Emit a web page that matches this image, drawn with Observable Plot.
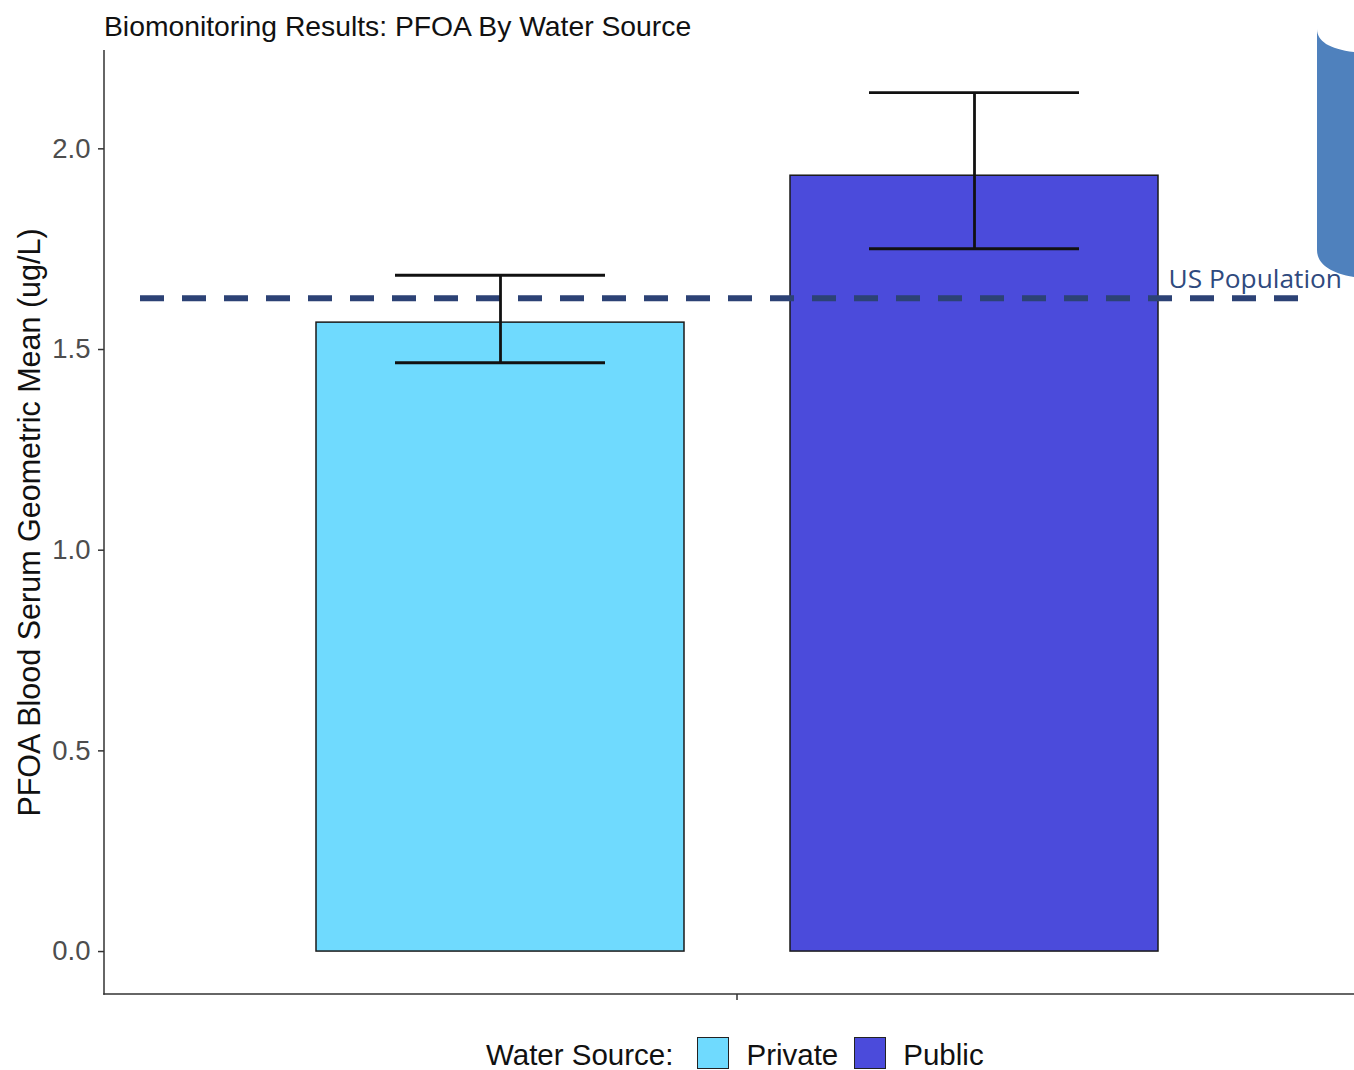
<!DOCTYPE html>
<html>
<head>
<meta charset="utf-8">
<script src="https://cdn.jsdelivr.net/npm/d3@7"></script>
<script src="https://cdn.jsdelivr.net/npm/@observablehq/plot@0.6"></script>
<style>
  html, body { margin: 0; padding: 0; background: #fff; }
  body { width: 1354px; height: 1070px; overflow: hidden; position: relative; font-family: "Liberation Sans", Arial, sans-serif; }
  #title { height: 48px; box-sizing: border-box; padding: 12px 0 0 104px; font-size: 28.3px; line-height: 28px; color: #111; white-space: nowrap; }
  #chart { width: 1354px; height: 960px; overflow: hidden; }
  #chart svg { max-width: none !important; display: block; }
  #legend { height: 62px; box-sizing: border-box; padding: 29px 0 0 486px; display: flex; align-items: flex-start; font-size: 29.5px; line-height: 29px; color: #111; white-space: nowrap; }
  #legend span { margin-top: 3px; }
  #legend .sw { width: 32px; height: 32px; border: 1.5px solid #222; box-sizing: border-box; flex: none; }
  #shape { position: absolute; left: 0; top: 0; pointer-events: none; }
</style>
</head>
<body>
<div id="title"></div>
<div id="chart"></div>
<div id="legend"></div>
<svg id="shape" width="1354" height="1070">
  <path d="M1317,29 C1317,41 1329,49 1354,52 L1354,277 C1329,273 1317,263 1317,250 Z" fill="#4f81bd"></path>
</svg>
<script>
// PFOA serum geometric means by drinking-water source, with 95% CI
const sources = ["Private", "Public"];
const geoMeans = [1.567, 1.933];
const ciLower = [1.467, 1.751];
const ciUpper = [1.685, 2.140];
const fillColors = ["#6fdafe", "#4b4bdb"];
const usPopulation = 1.628;
const usPopulationLabel = "US Population";
const yTicks = [0, 0.5, 1.0, 1.5, 2.0];
const titleText = "Biomonitoring Results: PFOA By Water Source";
const yLabel = "PFOA Blood Serum Geometric Mean (ug/L)";
const legendTitle = "Water Source:";

const rows = sources.map((s, i) => ({source: s, mean: geoMeans[i], lo: ciLower[i], hi: ciUpper[i]}));

document.getElementById("title").textContent = titleText;

// Axis lines along the left and bottom of the panel, plus the single group tick
function panelAxes(index, scales, values, dims) {
  const g = d3.create("svg:g").attr("stroke", "#333").attr("stroke-width", 1.5).attr("fill", "none");
  const x0 = dims.marginLeft, x1 = dims.width - dims.marginRight;
  const y0 = dims.marginTop, y1 = dims.height - dims.marginBottom;
  g.append("line").attr("x1", x0).attr("x2", x0).attr("y1", y0).attr("y2", y1 + 0.75);
  g.append("line").attr("x1", x0 - 0.75).attr("x2", x1).attr("y1", y1).attr("y2", y1);
  const xm = (x0 + x1) / 2;
  g.append("line").attr("x1", xm).attr("x2", xm).attr("y1", y1).attr("y2", y1 + 6);
  return g.node();
}

const chart = Plot.plot({
  width: 1370,
  height: 960,
  marginTop: 2,
  marginBottom: 14,
  marginLeft: 104,
  marginRight: 0,
  style: {fontFamily: "'Liberation Sans', Arial, sans-serif", background: "transparent", maxWidth: "none"},
  x: {type: "band", domain: sources, paddingInner: 0.2236, paddingOuter: 0.447, axis: null},
  y: {domain: [-0.107, 2.245], axis: null},
  color: {domain: sources, range: fillColors},
  marks: [
    Plot.barY(rows, {x: "source", y1: 0, y2: "mean", fill: "source", stroke: "#1a1a1a", strokeWidth: 1.5}),
    Plot.ruleY([usPopulation], {stroke: "#2c4275", strokeWidth: 6, strokeDasharray: "24,18", insetLeft: 36, insetRight: 72}),
    Plot.ruleX(rows, {x: "source", y1: "lo", y2: "hi", stroke: "#111", strokeWidth: 2.8}),
    Plot.tickY(rows, {x: "source", y: "lo", stroke: "#111", strokeWidth: 2.8, insetLeft: 79, insetRight: 79}),
    Plot.tickY(rows, {x: "source", y: "hi", stroke: "#111", strokeWidth: 2.8, insetLeft: 79, insetRight: 79}),
    Plot.text([usPopulationLabel], {
      y: () => usPopulation, frameAnchor: "right", textAnchor: "start", lineAnchor: "middle",
      dx: -202, dy: -19, fontFamily: "'Open Sans', sans-serif", fontSize: 26.3, fill: "#2f4a7e"
    }),
    Plot.axisY({ticks: yTicks, tickFormat: d3.format(".1f"), tickSize: 6, tickPadding: 8, stroke: "#333", strokeWidth: 1.5, fill: "#4d4d4d", fontSize: 27.5, label: null}),
    Plot.text([yLabel], {frameAnchor: "left", rotate: -90, textAnchor: "middle", lineAnchor: "top", dx: -86, fontSize: 30.5, fill: "#111"}),
    panelAxes
  ]
});
document.getElementById("chart").appendChild(chart);

// Legend row below the plot
const legend = d3.select("#legend");
legend.append("span").text(legendTitle).style("margin-right", "24px");
sources.forEach((s, i) => {
  legend.append("div").attr("class", "sw").style("background", fillColors[i]).style("margin-right", "17px");
  legend.append("span").text(s).style("margin-right", "16px");
});
</script>
</body>
</html>
